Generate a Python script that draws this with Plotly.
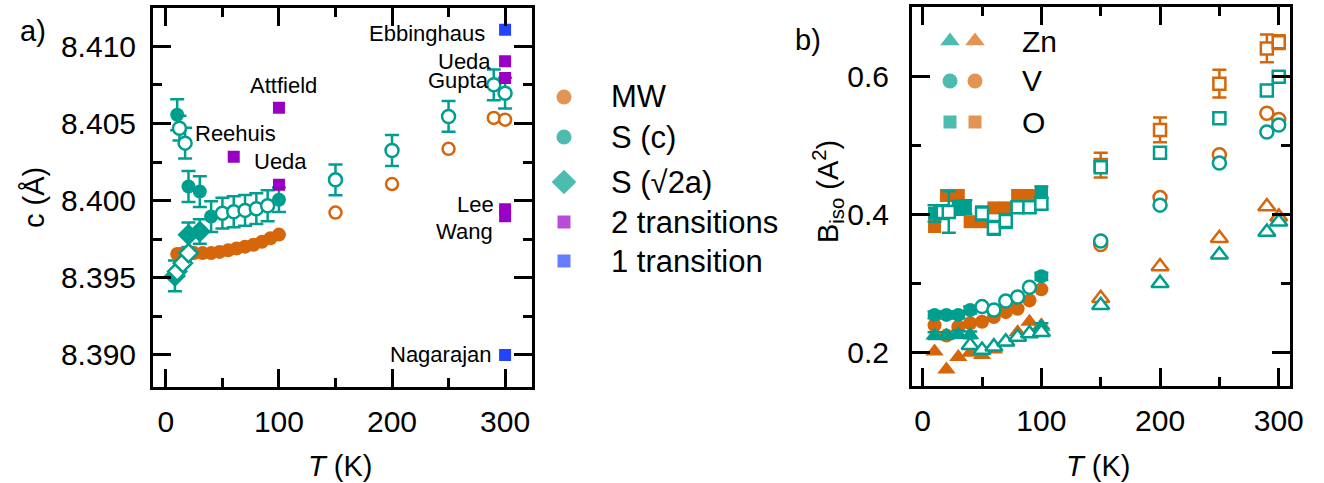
import plotly.graph_objects as go

# ---------------- colours ----------------
ORANGE = "#D5660A"
TEAL = "#009E8F"
PURPLE = "#9A00C4"
BLUE = "#2244FF"
FONT = "Liberation Sans, Arial, sans-serif"

W, H = 1324, 483

# ---------------- panel a: lattice parameter c ----------------
mw_T_fill = [10, 12.5, 15, 17.5, 20, 25, 32.5, 40, 47.5, 55, 62.5, 70, 77.5, 85, 92.5, 100]
mw_c_fill = [8.39655, 8.39655, 8.39657, 8.39658, 8.39658, 8.3966, 8.3966, 8.3966,
             8.39668, 8.39678, 8.3969, 8.39702, 8.39714, 8.39734, 8.39756, 8.3978]
mw_T_open = [150, 200, 250, 290, 300]
mw_c_open = [8.39923, 8.40108, 8.40336, 8.40536, 8.40525]

sc_T_fill = [10, 20, 30, 40, 100]
sc_c_fill = [8.40557, 8.40092, 8.40059, 8.39897, 8.40006]
sc_e_fill = [0.0010, 0.0010, 0.0010, 0.0010, 0.0008]
sc_T_open = [12, 17, 50, 60, 70, 80, 90, 150, 200, 250, 290, 300]
sc_c_open = [8.40470, 8.40373, 8.39919, 8.39928, 8.39937, 8.39948, 8.39967,
             8.40135, 8.40325, 8.40546, 8.40751, 8.40697]
sc_e_open = [0.0008, 0.0010, 0.0010, 0.0010, 0.0010, 0.0010, 0.0010,
             0.0010, 0.0010, 0.0010, 0.0010, 0.0010]

sa_T_fill = [8, 20, 30]
sa_c_fill = [8.39512, 8.39779, 8.39800]
sa_e_fill = [0.0010, 0.0008, 0.0008]
sa_T_open = [10, 15, 20]
sa_c_open = [8.39541, 8.39595, 8.39660]

two_names = ["Attfield", "Reehuis", "Ueda", "Ueda", "Gupta", "Lee", "Wang"]
two_T = [100, 60, 100, 300, 300, 300, 300]
two_c = [8.40602, 8.40285, 8.40103, 8.40903, 8.40795, 8.39944, 8.39899]
one_names = ["Ebbinghaus", "Nagarajan"]
one_T = [300, 300]
one_c = [8.41108, 8.39000]

# ---------------- panel b: B_iso ----------------
# Zn (triangles)
zn_or_T_fill = [10, 20, 30, 40, 50, 60, 70, 80, 90, 100]
zn_or_B_fill = [0.202, 0.176, 0.194, 0.200, 0.197, 0.205, 0.215, 0.230, 0.245, 0.240]
zn_or_T_open = [150, 200, 250, 290, 300]
zn_or_B_open = [0.279, 0.325, 0.366, 0.412, 0.397]
zn_te_T_fill = [10, 20, 30, 40, 100]
zn_te_B_fill = [0.225, 0.225, 0.227, 0.226, 0.238]
zn_te_T_open = [40, 50, 60, 70, 80, 90, 100, 150, 200, 250, 290, 300]
zn_te_B_open = [0.211, 0.204, 0.209, 0.216, 0.223, 0.228, 0.230,
                0.269, 0.301, 0.342, 0.375, 0.390]

# V (circles)
v_or_T_fill = [10, 20, 30, 40, 50, 60, 70, 80, 90, 100]
v_or_B_fill = [0.240, 0.225, 0.238, 0.243, 0.245, 0.252, 0.259, 0.264, 0.276, 0.292]
v_or_T_open = [150, 200, 250, 290, 300]
v_or_B_open = [0.357, 0.425, 0.487, 0.547, 0.538]
v_te_T_fill = [10, 20, 30, 40, 100]
v_te_B_fill = [0.255, 0.255, 0.255, 0.262, 0.311]
v_te_T_open = [50, 60, 70, 80, 90, 150, 200, 250, 290, 300]
v_te_B_open = [0.267, 0.262, 0.275, 0.281, 0.295, 0.362, 0.414, 0.475, 0.520, 0.530]

# O (squares)
o_or_T_fill = [10, 20, 25, 30, 40, 50, 60, 70, 80, 90, 100]
o_or_B_fill = [0.383, 0.428, 0.428, 0.428, 0.390, 0.390, 0.410, 0.410, 0.428, 0.428, 0.430]
o_or_T_open = [150, 200, 250, 290, 300]
o_or_B_open = [0.472, 0.523, 0.590, 0.641, 0.650]
o_or_E_open = [0.018, 0.018, 0.020, 0.020, 0.010]
o_te_T_fill = [10, 30, 36, 100]
o_te_B_fill = [0.402, 0.410, 0.411, 0.433]
o_te_E_fill = [0.012, 0.010, 0.010, 0.008]
o_te_T_open = [17, 22, 50, 60, 70, 80, 90, 100, 150, 200, 250, 290, 300]
o_te_B_open = [0.404, 0.404, 0.402, 0.381, 0.391, 0.411, 0.411, 0.416,
               0.469, 0.490, 0.540, 0.580, 0.600]
o_te_E_open = [0.010, 0.030, 0.010, 0.010, 0.010, 0.008, 0.008, 0.008,
               0.006, 0.006, 0.006, 0.006, 0.006]

fig = go.Figure()


def pts(x, y, xa, ya, symbol, color, filled=True, size=13, err=None, lw=2.5):
    mk = dict(symbol=symbol, size=size, color=color if filled else "white",
              line=dict(color=color, width=0 if filled else lw))
    tr = go.Scatter(x=x, y=y, mode="markers", marker=mk, xaxis=xa, yaxis=ya,
                    showlegend=False, hoverinfo="skip")
    if err is not None:
        tr.error_y = dict(type="data", array=err, visible=True, color=color,
                          thickness=2.5, width=7)
    fig.add_trace(tr)


# panel a
pts(sc_T_fill, sc_c_fill, "x", "y", "circle", TEAL, True, 14, sc_e_fill)
pts(sa_T_fill, sa_c_fill, "x", "y", "diamond", TEAL, True, 17, sa_e_fill)
pts(mw_T_fill, mw_c_fill, "x", "y", "circle", ORANGE, True, 14)
pts(mw_T_open, mw_c_open, "x", "y", "circle", ORANGE, False, 12)
pts(sc_T_open, sc_c_open, "x", "y", "circle", TEAL, False, 13, sc_e_open)
pts(sa_T_open, sa_c_open, "x", "y", "diamond", TEAL, False, 14)
pts(two_T, two_c, "x", "y", "square", PURPLE, True, 12)
pts(one_T, one_c, "x", "y", "square", BLUE, True, 12)

# panel b: orange first, teal above
pts(o_or_T_fill, o_or_B_fill, "x2", "y2", "square", ORANGE, True, 13)
pts(o_or_T_open, o_or_B_open, "x2", "y2", "square", ORANGE, False, 12, o_or_E_open)
pts(v_or_T_fill, v_or_B_fill, "x2", "y2", "circle", ORANGE, True, 14)
pts(v_or_T_open, v_or_B_open, "x2", "y2", "circle", ORANGE, False, 13)
pts(zn_or_T_fill, zn_or_B_fill, "x2", "y2", "triangle-up", ORANGE, True, 16)
pts(zn_or_T_open, zn_or_B_open, "x2", "y2", "triangle-up", ORANGE, False, 15)
pts(o_te_T_fill, o_te_B_fill, "x2", "y2", "square", TEAL, True, 13, o_te_E_fill)
pts(o_te_T_open, o_te_B_open, "x2", "y2", "square", TEAL, False, 12, o_te_E_open)
pts(v_te_T_fill, v_te_B_fill, "x2", "y2", "circle", TEAL, True, 14, [0.005] * len(v_te_T_fill))
pts(v_te_T_open, v_te_B_open, "x2", "y2", "circle", TEAL, False, 13)
pts(zn_te_T_fill, zn_te_B_fill, "x2", "y2", "triangle-up", TEAL, True, 16, [0.005] * len(zn_te_T_fill))
pts(zn_te_T_open, zn_te_B_open, "x2", "y2", "triangle-up", TEAL, False, 15)

# ---------------- legend keys on a pixel-space overlay ----------------
leg_a_labels = ["MW", "S (c)", "S (\u221a2a)", "2 transitions", "1 transition"]
leg_a_symbols = ["circle", "circle", "diamond", "square", "square"]
leg_a_colors = [ORANGE, TEAL, TEAL, PURPLE, BLUE]
leg_a_sizes = [15, 15, 19, 13, 13]
leg_a_y = [97, 137, 182, 222, 261]
fig.add_trace(go.Scatter(
    x=[564] * 5, y=leg_a_y, mode="markers", xaxis="x3", yaxis="y3",
    marker=dict(symbol=leg_a_symbols, color=leg_a_colors, size=leg_a_sizes, line=dict(width=0)),
    showlegend=False, hoverinfo="skip"))

leg_b_labels = ["Zn", "V", "O"]
leg_b_symbols = ["triangle-up", "circle", "square"]
leg_b_y = [41, 81, 122]
for xk, col in ((950, TEAL), (975, ORANGE)):
    fig.add_trace(go.Scatter(
        x=[xk] * 3, y=leg_b_y, mode="markers", xaxis="x3", yaxis="y3",
        marker=dict(symbol=leg_b_symbols, color=col, size=[17, 15, 13], line=dict(width=0)),
        showlegend=False, hoverinfo="skip"))


def px(x):
    return x / W


def py(y):
    return 1 - y / H


ann = []


def text(x, y, s, size=29, xanchor="center", angle=0):
    ann.append(dict(x=px(x), y=py(y), xref="paper", yref="paper", text=s, showarrow=False,
                    xanchor=xanchor, yanchor="middle", textangle=angle,
                    font=dict(family=FONT, size=size, color="black")))


for lab, yy in zip(leg_a_labels, leg_a_y):
    text(609, yy, lab, 31, "left")
for lab, yy in zip(leg_b_labels, leg_b_y):
    text(1020, yy, lab, 30, "left")

# literature labels
text(283, 86, "Attfield", 22)
text(236, 134, "Reehuis", 22)
text(280, 162, "Ueda", 22)
text(487, 33, "Ebbinghaus", 22, "right")
text(493, 61, "Ueda", 22, "right")
text(491, 81, "Gupta", 22, "right")
text(496, 205, "Lee", 22, "right")
text(495, 231, "Wang", 22, "right")
text(494, 354, "Nagarajan", 22, "right")

# panel tags and axis titles
text(33, 31, "a)", 29)
text(808, 40, "b)", 29)
text(34, 198, "c (\u00c5)", 29, angle=-90)
text(828, 192, "B<sub>iso</sub> (A<sup>2</sup>)", 29, angle=-90)
text(340, 466, "<i>T</i> (K)", 29)
text(1098, 466, "<i>T</i> (K)", 29)

axis_common = dict(showline=True, linecolor="black", linewidth=3, mirror="allticks",
                   ticks="inside", ticklen=18, tickwidth=3, tickcolor="black",
                   showgrid=False, zeroline=False, automargin=False,
                   tickfont=dict(family=FONT, size=30, color="black"))

fig.update_layout(
    template="none",
    width=W, height=H, margin=dict(l=0, r=0, t=0, b=0, pad=0),
    paper_bgcolor="white", plot_bgcolor="rgba(0,0,0,0)",
    showlegend=False, annotations=ann,
    xaxis=dict(domain=[153 / W, 532 / W], range=[-11.4, 323.8], anchor="y",
               tick0=0, dtick=100, ticklabelstandoff=6,
               minor=dict(ticks="inside", dtick=50, ticklen=9, tickwidth=3, tickcolor="black"),
               **axis_common),
    yaxis=dict(domain=[1 - 386.7 / H, 1 - 8 / H], range=[8.38794, 8.41249], anchor="x",
               tick0=8.39, dtick=0.005, tickformat=".3f", ticklabelstandoff=8,
               minor=dict(ticks="inside", dtick=0.0025, ticklen=9, tickwidth=3, tickcolor="black"),
               **axis_common),
    xaxis2=dict(domain=[912 / W, 1290 / W], range=[-9, 309.5], anchor="y2",
                tick0=0, dtick=100, ticklabelstandoff=6,
                minor=dict(ticks="inside", dtick=50, ticklen=9, tickwidth=3, tickcolor="black"),
                **axis_common),
    yaxis2=dict(domain=[1 - 386 / H, 1 - 7 / H], range=[0.152, 0.701], anchor="x2",
                tick0=0.2, dtick=0.2, tickformat=".1f", ticklabelstandoff=14,
                minor=dict(ticks="inside", dtick=0.1, ticklen=9, tickwidth=3, tickcolor="black"),
                **axis_common),
    xaxis3=dict(domain=[0, 1], range=[0, W], anchor="y3", visible=False,
                fixedrange=True, automargin=False),
    yaxis3=dict(domain=[0, 1], range=[H, 0], anchor="x3", visible=False,
                fixedrange=True, automargin=False),
)

fig.write_html("out.html")
